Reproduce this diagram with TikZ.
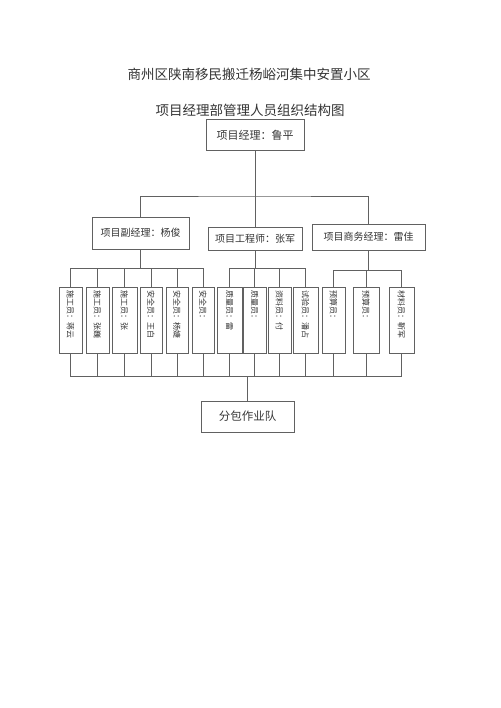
\documentclass[tikz,border=0pt]{standalone}
\usepackage{fontspec}
\newfontfamily\cjk{Noto Sans CJK SC}
\usetikzlibrary{positioning}

\begin{document}
\begin{tikzpicture}[x=1pt,y=-1pt,
  line/.style={draw=black!62,line width=.8pt},
  box/.style={line,rectangle,inner sep=0pt,align=center,text=black!80,
    font=\cjk\fontsize{10}{12}\selectfont},
  staff/.style={box,rotate=-90,text width=60pt,align=left,inner xsep=3pt,
    font=\cjk\fontsize{8}{9}\selectfont},
  title/.style={text=black!80,font=\cjk\fontsize{13.5}{16}\selectfont}]
 \useasboundingbox (0,0) rectangle (500,708);
 % titles
 \node[title] (t1) at (249,74) {商州区陕南移民搬迁杨峪河集中安置小区};
 \node[title] (t2) at (250,110) {项目经理部管理人员组织结构图};
 % managers
 \node[box,minimum width=98pt,minimum height=31pt,
   font=\cjk\fontsize{11}{13}\selectfont] (pm) at (255,135) {项目经理：鲁平};
 \node[box,minimum width=97pt,minimum height=32pt] (dep) at (140.5,233) {项目副经理：杨俊};
 \node[box,minimum width=94pt,minimum height=23pt] (eng) at (255,238.5) {项目工程师：张军};
 \node[box,minimum width=113pt,minimum height=26pt] (biz) at (368.5,237) {项目商务经理：雷佳};
 % staff (rotated: west = top, east = bottom)
 \foreach \x/\w/\t [count=\i] in {70.5/23/施工员：蒋云, 97.5/23/施工员：张巍,
     124.5/25/施工员：张, 151/22/安全员：王白, 177/22/安全员：杨婕,
     203/22/安全员：, 229.5/25/质量员：雷, 254.5/23/质量员：,
     279.5/23/资料员：付, 305.5/25/试验员：潘占, 333.5/23/预算员：,
     366/26/预算员：, 401.5/25/材料员：靳军}
   \node[staff,minimum height=\w pt] (s\i) at (\x,320) {\t};
 \node[box,minimum width=93pt,minimum height=31pt,
   font=\cjk\fontsize{11.5}{13}\selectfont] (team) at (247.5,416.5) {分包作业队};
 % connectors
 \coordinate (bar) at (255,196);
 \coordinate (g1) at (dep.south |- 0,268);
 \coordinate (g2) at (eng.south |- 0,268);
 \coordinate (g3) at (biz.south |- 0,270);
 \coordinate (base) at (team.north |- 0,376);
 \draw[line] (pm.south) -- (eng.north);
 \draw[line] (dep.north) |- (bar) -| (biz.north);
 \draw[line] (dep.south) -- (g1);
 \draw[line] (eng.south) -- (g2);
 \draw[line] (biz.south) -- (g3);
 \foreach \i in {1,...,6} \draw[line] (s\i.west) |- (g1);
 \foreach \i in {7,...,10} \draw[line] (s\i.west) |- (g2);
 \foreach \i in {11,12,13} \draw[line] (s\i.west) |- (g3);
 \foreach \i in {1,...,13} \draw[line] (s\i.east) |- (base);
 \draw[line] (base) -- (team.north);
\end{tikzpicture}
\end{document}
